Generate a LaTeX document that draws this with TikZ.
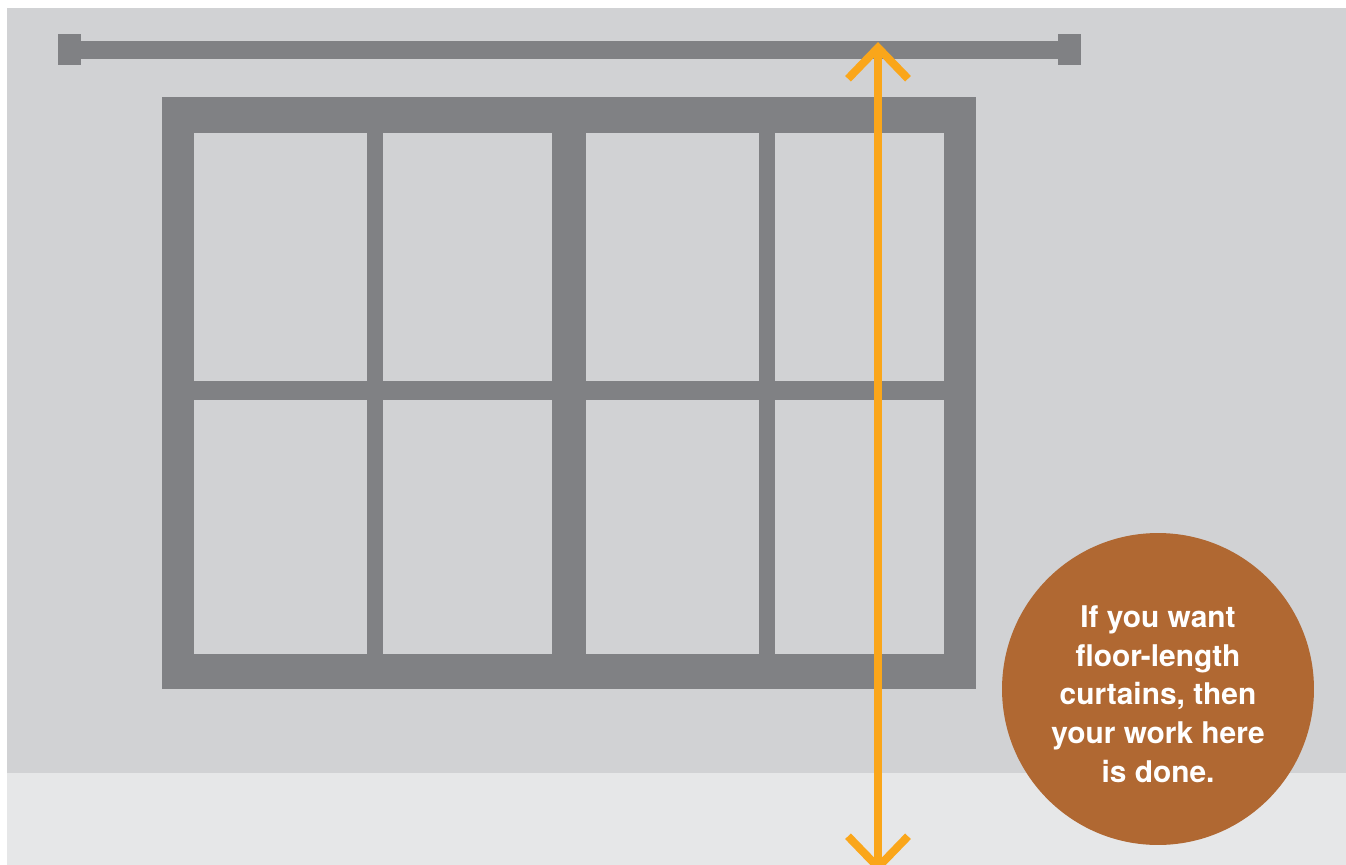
\documentclass[tikz,border=0pt]{standalone}
\usepackage{fontspec}
\setmainfont{TeX Gyre Heros}
\usetikzlibrary{arrows.meta}
\definecolor{wallgray}{HTML}{D1D2D4}
\definecolor{floorgray}{HTML}{E6E7E8}
\definecolor{framegray}{HTML}{808184}
\definecolor{tapeorange}{HTML}{FAA61A}
\definecolor{notebrown}{HTML}{B06832}

\begin{document}
\begin{tikzpicture}[x=0.02cm,y=-0.02cm,
  badge/.style={circle,fill=notebrown,minimum size=6.24cm,inner sep=0pt},
  badgetext/.style={text=white,inner sep=0pt,align=center,
    font=\bfseries\fontsize{17}{22}\selectfont},
  measure/.style={tapeorange,line width=0.16cm,
    {Straight Barb[length=0.62cm,width=1.2cm]}-{Straight Barb[length=0.62cm,width=1.2cm]}}]
  \useasboundingbox (0,0) rectangle (1346,865);
  % wall and floor
  \fill[wallgray] (7,8) rectangle (1346,773);
  \fill[floorgray] (7,773) rectangle (1346,865);
  % curtain rod
  \fill[framegray] (81,41) rectangle (1058,59);
  \fill[framegray] (58,34) rectangle (81,65);
  \fill[framegray] (1058,34) rectangle (1081,65);
  % window
  \fill[framegray] (162,97) rectangle (976,689);
  \foreach \xa/\xb in {194/367,383/552,586/759,775/944}
    \foreach \ya/\yb in {133/381,400/654}
      \fill[wallgray] (\xa,\ya) rectangle (\xb,\yb);
  % measuring arrow
  \coordinate (rod) at (878,42);
  \coordinate (floor) at (878,873);
  \draw[measure] (rod) -- (floor);
  \node[badge] (note) at (1158,689) {};
  \node[badgetext] (notetext) at ([yshift=-0.1cm]note.center) {If you want\\floor-length\\curtains, then\\your work here\\is done.};
\end{tikzpicture}
\end{document}
